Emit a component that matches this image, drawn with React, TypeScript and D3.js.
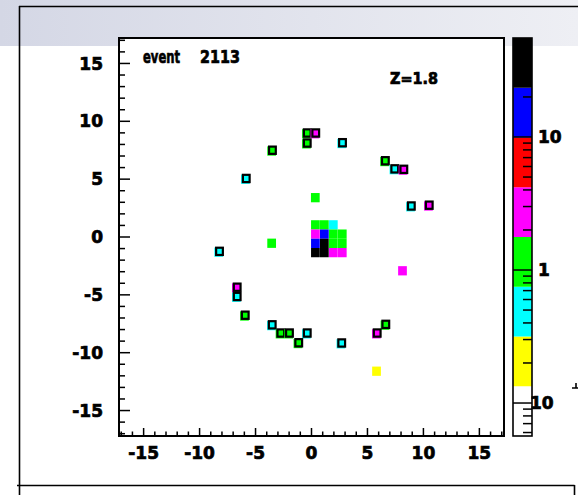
import React from 'react';
import * as d3 from 'd3';

const W = 578;
const H = 495;

// axis
const axisMin = -17.2;
const axisMax = 17.2;
const axisTickLabels = [-15, -10, -5, 0, 5, 10, 15];
const minorTicks = d3.range(-17, 18);

// palette (low -> high)
const paletteColors = ['#ffffff', '#ffff00', '#00ffff', '#00ff00', '#ff00ff', '#ff0000', '#0000ff', '#000000'];
const zMin = 0.0565;
const zMax = 55.5;
const zTickValues = [0.06, 0.07, 0.08, 0.09, 0.1, 0.2, 0.3, 0.4, 0.5, 0.6, 0.7, 0.8, 0.9, 1, 2, 3, 4, 5, 6, 7, 8, 9, 10, 20, 30, 40, 50];
const zMajorValues = [0.1, 1, 10];
const zLabelValues = [10, 1, 0.1];
const zLabelTexts = ['10', '1', '10'];

// bin size
const binW = 0.78;
const binH = 0.8;

// ring hits (drawn with box outline)
const ringX = [-0.38, 0.38, -0.38, 2.77, -3.49, 6.6, 7.44, 8.25, -5.83, 8.92, 10.52, -8.22, -6.64, -6.64, -5.92, -3.51, -2.74, -1.97, -0.38, -1.14, 2.7, 6.64, 5.87];
const ringY = [8.99, 8.99, 8.12, 8.15, 7.5, 6.59, 5.89, 5.85, 5.06, 2.68, 2.75, -1.24, -4.34, -5.14, -6.76, -7.59, -8.3, -8.3, -8.3, -9.14, -9.16, -7.55, -8.3];
const ringZ = [1.2, 2.8, 1.2, 0.5, 1.2, 1.2, 0.5, 2.8, 0.5, 0.5, 2.8, 0.5, 2.8, 0.5, 1.2, 0.5, 1.2, 1.2, 0.5, 1.2, 0.5, 1.2, 2.8];

// plain hits (no outline)
const plainX = [0.34, -3.56, 8.13, 5.81,
  0.35, 1.15, 1.95,
  0.35, 1.15, 1.95, 2.75,
  0.35, 1.15, 1.95, 2.75,
  0.35, 1.15, 1.95, 2.75];
const plainY = [3.4, -0.54, -2.92, -11.6,
  1.05, 1.05, 1.05,
  0.25, 0.25, 0.25, 0.25,
  -0.55, -0.55, -0.55, -0.55,
  -1.35, -1.35, -1.35, -1.35];
const plainZ = [1.2, 1.2, 2.8, 0.2,
  1.2, 1.2, 0.5,
  2.8, 15, 1.2, 1.2,
  15, 35, 1.2, 1.2,
  35, 35, 2.8, 2.8];

const FX0 = 119, FX1 = 504, FY0 = 38, FY1 = 436;
const CB0 = 513, CB1 = 532;

export default function App() {
  const x = d3.scaleLinear().domain([axisMin, axisMax]).range([FX0, FX1]);
  const y = d3.scaleLinear().domain([axisMin, axisMax]).range([FY1, FY0]);
  const z = d3.scaleLog().domain([zMin, zMax]).range([FY1, FY0]);
  const lmin = Math.log10(zMin), lmax = Math.log10(zMax);
  const color = d3.scaleQuantize<string>().domain([lmin, lmax]).range(paletteColors);
  const bandEdges = d3.range(paletteColors.length + 1).map(i => Math.pow(10, lmin + (lmax - lmin) * i / paletteColors.length));

  const cw = x(binW) - x(0);
  const ch = y(0) - y(binH);

  const font = "'DejaVu Sans', sans-serif";
  const txt = { fontFamily: font, fontWeight: 'bold' as const, stroke: '#000', strokeWidth: 0.7 };

  const cell = (cx: number, cy: number) => ({ rx: x(cx) - cw / 2, ry: y(cy) - ch / 2 });

  return (
    <svg width={W} height={H} style={{ position: 'absolute', left: 0, top: 0, background: '#fff' }}>
      <defs>
        <linearGradient id="band" x1="0" x2="1" y1="0" y2="0">
          <stop offset="0" stopColor="#d4d7e5" />
          <stop offset="1" stopColor="#eeeff4" />
        </linearGradient>
      </defs>
      <rect x={0} y={0} width={W} height={H} fill="#fff" />
      <rect x={0} y={0} width={W} height={46} fill="url(#band)" />
      {/* outer pad lines */}
      <line x1={19.5} y1={6} x2={19.5} y2={H} stroke="#000" strokeWidth={1.6} />
      <line x1={19} y1={6.5} x2={W} y2={6.5} stroke="#000" strokeWidth={1.6} />
      <line x1={17} y1={485.5} x2={574.5} y2={485.5} stroke="#000" strokeWidth={1.6} />
      <line x1={574.5} y1={485} x2={574.5} y2={H} stroke="#000" strokeWidth={1.6} />

      {/* frame background */}
      <rect x={FX0} y={FY0} width={FX1 - FX0} height={FY1 - FY0} fill="#fff" />

      {/* plain hits */}
      {plainX.map((px, i) => {
        const c = cell(px, plainY[i]);
        return <rect key={'p' + i} x={c.rx} y={c.ry} width={cw} height={ch} fill={color(Math.log10(plainZ[i]))} />;
      })}
      {/* ring hits */}
      {ringX.map((px, i) => {
        const c = cell(px, ringY[i]);
        return (
          <g key={'r' + i}>
            <rect x={c.rx - 0.8} y={c.ry + 0.8} width={cw} height={ch} fill={color(Math.log10(ringZ[i]))} />
            <rect x={c.rx + 1} y={c.ry + 1} width={cw - 2} height={ch - 2} fill={color(Math.log10(ringZ[i]))} stroke="#000" strokeWidth={2.2} />
          </g>
        );
      })}

      {/* frame */}
      <rect x={FX0} y={FY0} width={FX1 - FX0} height={FY1 - FY0} fill="none" stroke="#000" strokeWidth={2} />
      {/* x ticks */}
      {minorTicks.map(t => (
        <line key={'xt' + t} x1={x(t)} x2={x(t)} y1={FY1} y2={FY1 - (t % 5 === 0 ? 8 : 4.5)} stroke="#000" strokeWidth={1.5} />
      ))}
      {/* y ticks */}
      {minorTicks.map(t => (
        <line key={'yt' + t} x1={FX0} x2={FX0 + (t % 5 === 0 ? 11 : 6)} y1={y(t)} y2={y(t)} stroke="#000" strokeWidth={1.5} />
      ))}
      {axisTickLabels.map(t => (
        <text key={'xl' + t} x={x(t)} y={459} textAnchor="middle" fontSize={17} {...txt}>{t}</text>
      ))}
      {axisTickLabels.map(t => (
        <text key={'yl' + t} x={103} y={y(t)} dy="0.36em" textAnchor="end" fontSize={17} {...txt}>{t}</text>
      ))}

      {/* title and Z text */}
      <text x={143} y={63} fontSize={17} textLength={37} lengthAdjust="spacingAndGlyphs" {...txt}>event</text>
      <text x={200} y={63} fontSize={17} textLength={40} lengthAdjust="spacingAndGlyphs" {...txt}>2113</text>
      <text x={390} y={84} fontSize={15} textLength={48} lengthAdjust="spacingAndGlyphs" {...txt}>Z=1.8</text>

      {/* color bar */}
      {paletteColors.map((c, i) => (
        <rect key={'b' + i} x={CB0} y={z(bandEdges[i + 1])} width={CB1 - CB0} height={z(bandEdges[i]) - z(bandEdges[i + 1])} fill={c} />
      ))}
      {zTickValues.map(v => (
        <line key={'zt' + v} x1={CB1} x2={zMajorValues.includes(v) ? CB0 : CB1 - 9} y1={z(v)} y2={z(v)} stroke="#000" strokeWidth={1.5} />
      ))}
      <rect x={CB0} y={FY0} width={CB1 - CB0} height={FY1 - FY0} fill="none" stroke="#000" strokeWidth={1.6} />
      {zLabelValues.map((v, i) => (
        <text key={'zl' + i} x={i === 2 ? 530 : 538} y={z(v)} dy="0.36em" fontSize={17} {...txt}>{zLabelTexts[i]}</text>
      ))}
      <path d="M572,388 H578 M576,383 V388" stroke="#000" strokeWidth={1.6} fill="none" />
    </svg>
  );
}
